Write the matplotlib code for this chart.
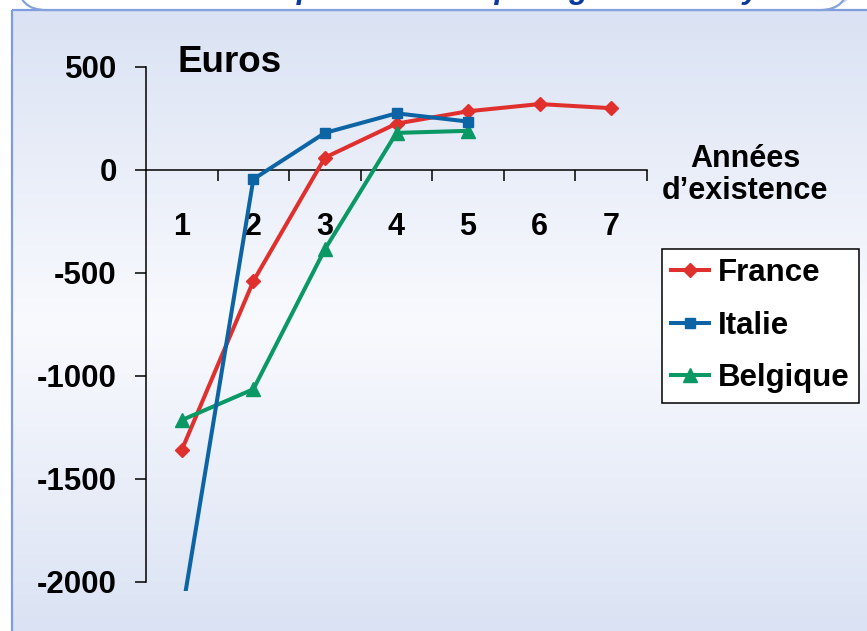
import numpy as np
import matplotlib
matplotlib.use("Agg")
import matplotlib.pyplot as plt
from matplotlib.patches import FancyBboxPatch, Rectangle
from matplotlib.ticker import FixedLocator, FuncFormatter

plt.rcParams["font.family"] = ["Liberation Sans", "DejaVu Sans"]
plt.rcParams["font.weight"] = "bold"

# --- données ---
annees   = [1, 2, 3, 4, 5, 6, 7]
france   = [-1360, -540, 60, 225, 285, 320, 300]
italie   = [-2160, -45, 180, 275, 235]
belgique = [-1215, -1065, -385, 180, 190]
y_ticks  = [500, 0, -500, -1000, -1500, -2000]

C_FR = "#e0302e"
C_IT = "#0d64a5"
C_BE = "#0a9865"

W, H = 867, 631
fig = plt.figure(figsize=(W / 100, H / 100), dpi=100)
fig.patch.set_facecolor("white")

# --- fond façon diapositive ---
bg = fig.add_axes([0, 0, 1, 1], zorder=-5)
bg.set_xlim(0, W)
bg.set_ylim(H, 0)
bg.axis("off")

top = np.array([0.855, 0.886, 0.953])
mid = np.array([0.975, 0.980, 0.995])
pos = np.linspace(0, 1, 300)[:, None]
w = np.clip(1 - np.abs(pos - 0.5) / 0.5, 0, 1)
grad = (top[None, :] * (1 - w) + mid[None, :] * w)[:, None, :]
bg.imshow(grad, extent=(12, W + 5, H + 5, 10), aspect="auto", zorder=0)
bg.add_patch(Rectangle((12, 10), W, H, fill=False, ec="#7f9ddc", lw=1.6, zorder=1))

# cadre du titre (coupé en haut)
bg.add_patch(FancyBboxPatch((26, -80), 830, 86, boxstyle="round,pad=0,rounding_size=28",
                            fc="#d2d9ef", ec="none", zorder=2))
bg.add_patch(FancyBboxPatch((18, -80), 830, 90, boxstyle="round,pad=0,rounding_size=28",
                            fc="white", ec="#86a2dc", lw=1.6, zorder=3))
bg.text(99, -2, "Évolution du profit annuel par âge et en moyenne", fontsize=22.5,
        style="italic", fontweight="bold", color="#0b3a9c", va="baseline", ha="left",
        zorder=4, clip_on=True)

# --- graphique ---
ax = fig.add_axes([146 / W, 1 - 591 / H, 501 / W, (591 - 67) / H])
ax.patch.set_alpha(0)
ax.set_xlim(0.5, 7.5)
ax.set_ylim(-2045, 500)

ax.plot(annees, france, color=C_FR, lw=2.9, marker="D", ms=7.5, label="France", zorder=3)
ax.plot(annees[:5], italie, color=C_IT, lw=2.9, marker="s", ms=7.5, label="Italie", zorder=4)
ax.plot(annees[:5], belgique, color=C_BE, lw=2.9, marker="^", ms=9.5, label="Belgique", zorder=3)

for s in ["top", "right"]:
    ax.spines[s].set_visible(False)
ax.spines["left"].set_bounds(-2000, 500)
ax.spines["bottom"].set_position(("data", 0))
ax.spines["left"].set_linewidth(1.1)
ax.spines["bottom"].set_linewidth(1.1)

ax.yaxis.set_major_locator(FixedLocator(y_ticks))
ax.yaxis.set_major_formatter(FuncFormatter(lambda v, p: f"{int(v)}"))
ax.tick_params(axis="y", direction="out", length=8, width=1.1, pad=13, labelsize=22.5)

ax.xaxis.set_major_locator(FixedLocator(annees))
ax.xaxis.set_minor_locator(FixedLocator([a + 0.5 for a in annees]))
ax.tick_params(axis="x", which="major", length=0, pad=30, labelsize=22)
ax.tick_params(axis="x", which="minor", direction="out", length=8, width=1.1)

fig.text(178 / W, 1 - 62 / H, "Euros", fontsize=26.5, fontweight="bold", va="center", ha="left")
fig.text(745 / W, 1 - 175 / H, "Années\nd’existence", fontsize=22, fontweight="bold",
         va="center", ha="center", linespacing=1.1)

leg = fig.legend(loc="upper left", bbox_to_anchor=(662 / W, 1 - 249 / H), borderaxespad=0,
                 frameon=True, fancybox=False, handlelength=1.2,
                 handletextpad=0.3, labelspacing=0.72, borderpad=0.3, edgecolor="black",
                 prop={"weight": "bold", "size": 22.5})
leg.get_frame().set_facecolor("white")
leg.get_frame().set_linewidth(1.1)
leg.get_frame().set_alpha(1)

fig.savefig("out.png", dpi=100)
